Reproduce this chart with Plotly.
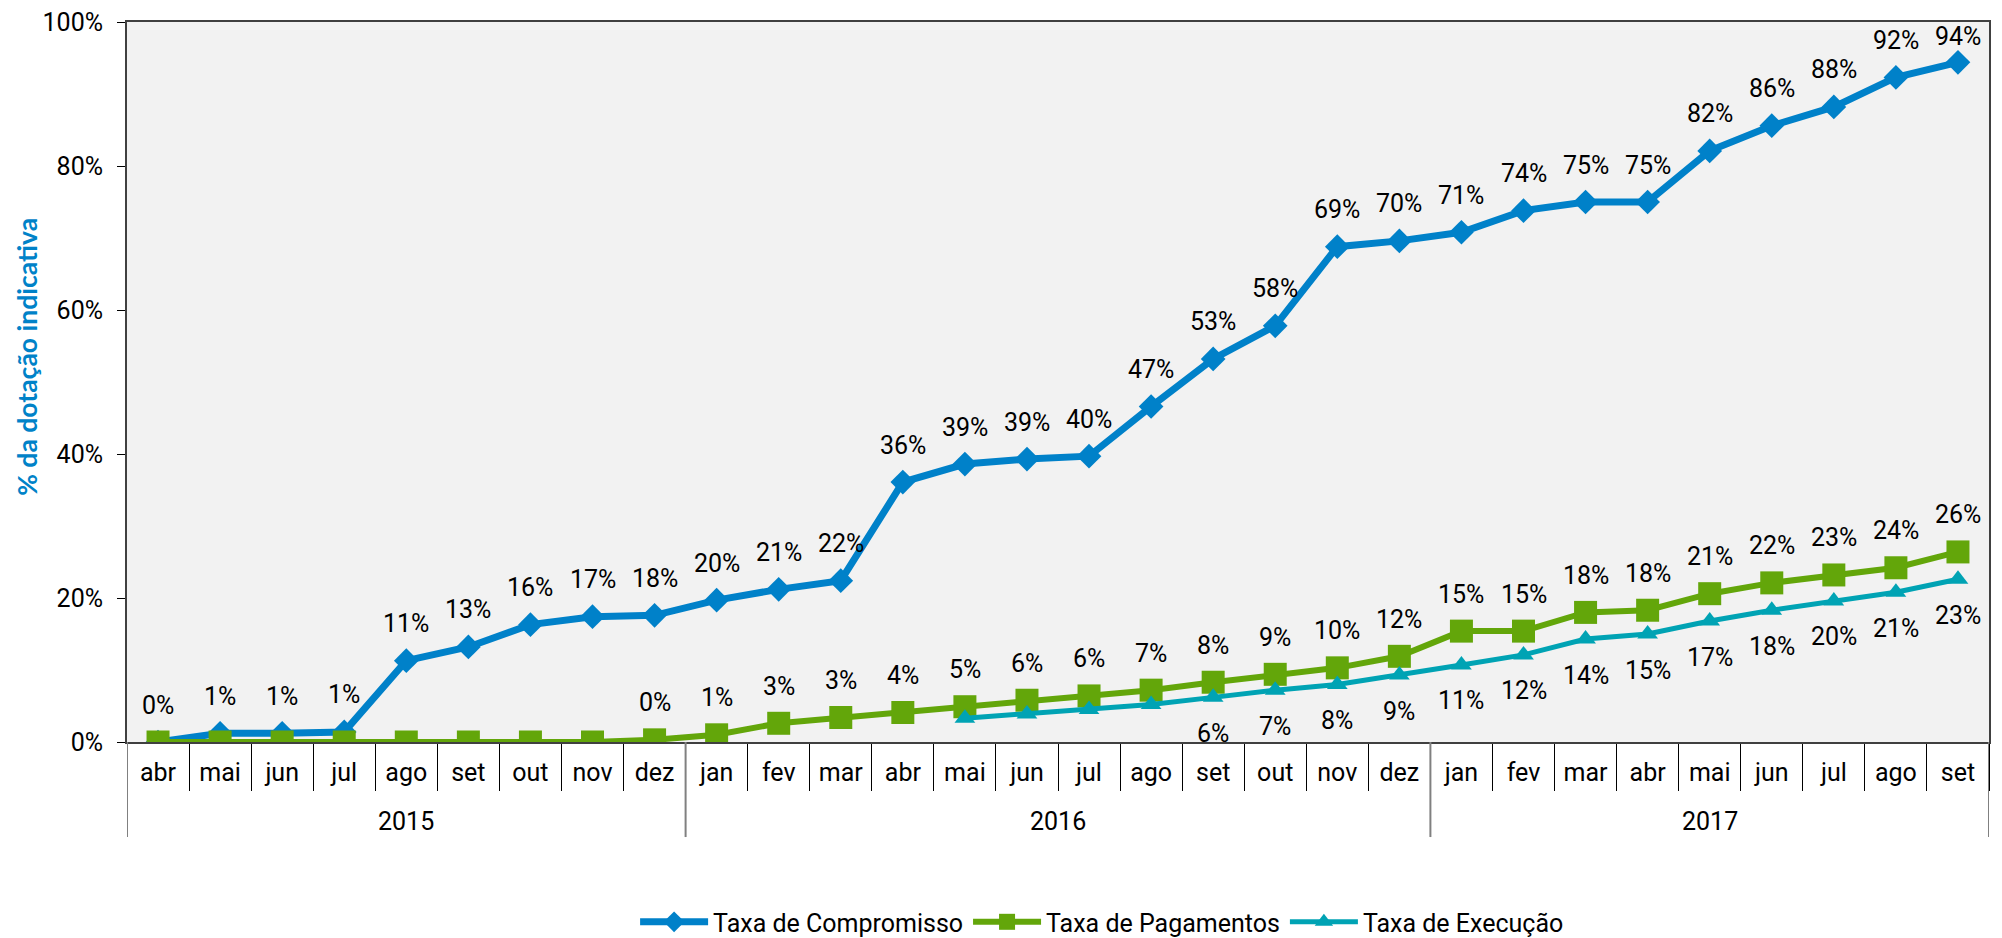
import plotly.graph_objects as go

# ---------------- data ----------------
years = ["2015"] * 9 + ["2016"] * 12 + ["2017"] * 9
months = ["abr", "mai", "jun", "jul", "ago", "set", "out", "nov", "dez",
          "jan", "fev", "mar", "abr", "mai", "jun", "jul", "ago", "set", "out", "nov", "dez",
          "jan", "fev", "mar", "abr", "mai", "jun", "jul", "ago", "set"]

compromisso = [0.0, 1.2, 1.2, 1.4, 11.3, 13.2, 16.3, 17.4, 17.6,
               19.7, 21.2, 22.4, 36.1, 38.6, 39.3, 39.7, 46.6, 53.2, 57.8, 68.8, 69.6,
               70.8, 73.8, 75.0, 75.0, 82.1, 85.6, 88.2, 92.3, 94.4]
pagamentos = [0.0, 0.0, 0.0, 0.0, 0.0, 0.0, 0.0, 0.0, 0.3,
              1.0, 2.6, 3.4, 4.1, 4.9, 5.8, 6.4, 7.2, 8.3, 9.4, 10.3, 11.9,
              15.4, 15.4, 18.0, 18.3, 20.6, 22.1, 23.2, 24.2, 26.4]
execucao = [None, None, None, None, None, None, None, None, None,
            None, None, None, None, 3.3, 3.9, 4.5, 5.2, 6.2, 7.2, 8.0, 9.3,
            10.7, 12.1, 14.3, 15.0, 16.8, 18.3, 19.6, 20.8, 22.6]

# first index that carries a data label, per series
comp_label_from = 0
pag_label_from = 8
exe_label_from = 17

yticks = [0, 20, 40, 60, 80, 100]
YMAX = 100

# ---------------- style ----------------
BLUE = "#0081C9"
GREEN = "#63A60A"
TEAL = "#00A3B4"
FONT = "Roboto, Liberation Sans, sans-serif"
FS = 25
W, H = 2002, 938
M = dict(l=127, r=13, t=22, b=196)
PLOT_H = H - M["t"] - M["b"]
PX_PER_UNIT = PLOT_H / YMAX

keys = [f"{m} {y}" for m, y in zip(months, years)]

fig = go.Figure()
fig.add_trace(go.Scatter(x=keys, y=compromisso, name="Taxa de Compromisso", mode="lines+markers",
                         line=dict(color=BLUE, width=7),
                         marker=dict(symbol="diamond", size=19, color=BLUE)))
fig.add_trace(go.Scatter(x=keys, y=pagamentos, name="Taxa de Pagamentos", mode="lines+markers",
                         line=dict(color=GREEN, width=6),
                         marker=dict(symbol="square", size=23, color=GREEN)))
fig.add_trace(go.Scatter(x=keys, y=execucao, name="Taxa de Execução", mode="lines+markers",
                         line=dict(color=TEAL, width=5),
                         marker=dict(symbol="triangle-up", size=18, color=TEAL)))

annotations = []


def add_labels(values, start, above):
    for i, v in enumerate(values):
        if v is None or i < start:
            continue
        if above:
            # keep the label inside the plot area (as the original does near the top)
            shift = min(37, (YMAX - v) * PX_PER_UNIT - 14)
        else:
            shift = -36
        annotations.append(dict(
            x=keys[i], y=v, xref="x", yref="y", text=f"{round(v)}%", showarrow=False,
            font=dict(family=FONT, size=FS, color="#000000"),
            yanchor="middle", yshift=shift,
        ))


add_labels(compromisso, comp_label_from, True)
add_labels(pagamentos, pag_label_from, True)
add_labels(execucao, exe_label_from, False)

# year groups: labels centred under their months, dividers at the group edges
shapes = []
groups = []
for i, y in enumerate(years):
    if not groups or groups[-1][0] != y:
        groups.append([y, i, i])
    else:
        groups[-1][2] = i
for y, a, b in groups:
    annotations.append(dict(
        text=y, x=(a + b) / 2, y=-0.11, xref="x", yref="paper", showarrow=False,
        xanchor="center", yanchor="middle", font=dict(family=FONT, size=FS, color="#000000"),
    ))
edges = sorted({g[1] - 0.5 for g in groups} | {g[2] + 0.5 for g in groups})
for e in edges:
    shapes.append(dict(type="line", xref="x", yref="paper", x0=e, x1=e, y0=0, y1=-0.132,
                       line=dict(color="#808080", width=2)))

# y-axis title
annotations.append(dict(
    text="% da dotação indicativa", xref="paper", yref="paper", x=-0.0537, y=0.535,
    textangle=-90, showarrow=False, xanchor="center", yanchor="middle",
    font=dict(family="Lato, Open Sans, sans-serif", size=26.5, color="#0082C8", weight="bold"),
))

fig.update_layout(
    width=W, height=H,
    margin=dict(**M, autoexpand=False),
    paper_bgcolor="#FFFFFF",
    plot_bgcolor="#F2F2F2",
    font=dict(family=FONT, size=FS, color="#000000"),
    showlegend=True,
    legend=dict(orientation="h", xref="container", yref="container", x=0.5505, xanchor="center",
                y=0.017, yanchor="middle", itemwidth=68,
                font=dict(family=FONT, size=FS), bgcolor="rgba(0,0,0,0)"),
    annotations=annotations,
    shapes=shapes,
)
fig.update_yaxes(range=[0, YMAX], tickvals=yticks, ticktext=[f"{v}%" for v in yticks],
                 showgrid=False, zeroline=False, automargin=False,
                 showline=True, linecolor="#404040", linewidth=2, mirror=True,
                 ticks="outside", ticklen=8, tickcolor="#000000", tickwidth=1,
                 ticklabelstandoff=9,
                 tickfont=dict(family=FONT, size=FS))
fig.update_xaxes(type="category", range=[-0.5, len(keys) - 0.5],
                 tickvals=keys, ticktext=months, tickson="boundaries",
                 showgrid=False, zeroline=False, automargin=False,
                 showline=True, linecolor="#404040", linewidth=2, mirror=True,
                 ticks="outside", ticklen=47, tickcolor="#000000", tickwidth=1,
                 ticklabelstandoff=7,
                 tickfont=dict(family=FONT, size=FS))

fig.write_html("out.html", config={"displayModeBar": False},
               post_script="document.body.style.margin='0';document.body.style.overflow='hidden';")
